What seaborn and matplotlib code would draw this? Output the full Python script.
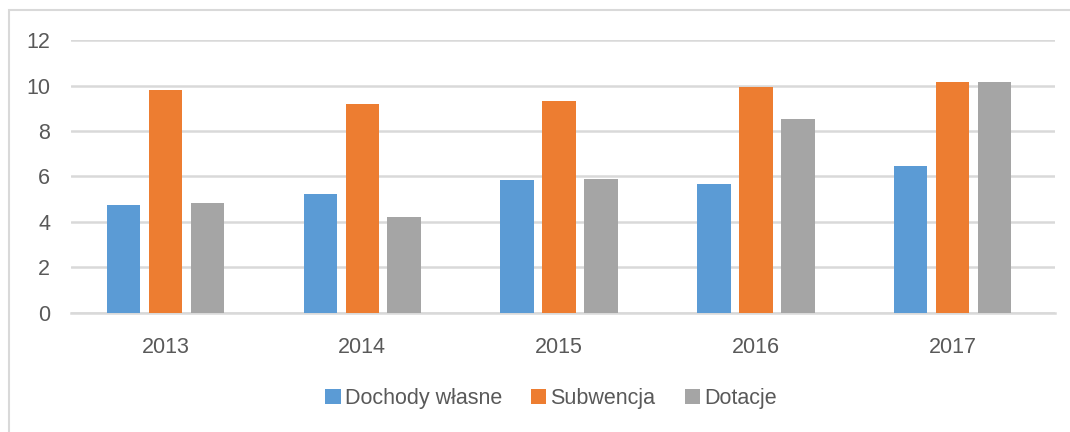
import pandas as pd
import seaborn as sns
import matplotlib.pyplot as plt
from matplotlib.patches import Rectangle

# values
years = ["2013", "2014", "2015", "2016", "2017"]
dochody_wlasne = [4.73, 5.24, 5.85, 5.69, 6.48]
subwencja = [9.81, 9.18, 9.31, 9.92, 10.14]
dotacje = [4.84, 4.21, 5.91, 8.52, 10.14]
series_names = ["Dochody własne", "Subwencja", "Dotacje"]
colors = ["#5B9BD5", "#ED7D31", "#A5A5A5"]

df = pd.DataFrame({"rok": years * 3,
                   "seria": [s for s in series_names for _ in years],
                   "wartosc": dochody_wlasne + subwencja + dotacje})

sns.set_theme(style="white")
plt.rcParams['font.family'] = ['Liberation Sans', 'DejaVu Sans']
text_col = "#595959"
grid_col = "#D9D9D9"

fig = plt.figure(figsize=(10.7, 4.32), dpi=100)
ax = fig.add_axes([0.0664, 0.2755, 0.9196, 0.6319])

sns.barplot(data=df, x="rok", y="wartosc", hue="seria", hue_order=series_names,
            palette=colors, width=0.64, gap=0.2, linewidth=0, saturation=1,
            ax=ax, zorder=3)

ax.set_ylim(0, 12)
ax.set_yticks(range(0, 13, 2))
ax.set_xlim(-0.48, 4.52)
ax.set_xlabel("")
ax.set_ylabel("")
ax.yaxis.grid(True, color=grid_col, linewidth=1.8)
ax.set_axisbelow(True)
for side in ["top", "right", "left"]:
    ax.spines[side].set_visible(False)
ax.spines["bottom"].set_color(grid_col)
ax.spines["bottom"].set_linewidth(1.8)
ax.tick_params(axis="y", length=0, pad=15, labelsize=15.5, labelcolor=text_col)
ax.tick_params(axis="x", length=0, pad=17, labelsize=15.5, labelcolor=text_col)
# Excel centres the category label a little right of the bar group
for lbl in ax.get_xticklabels():
    lbl.set_x(lbl.get_position()[0])

ax.legend(loc="center", bbox_to_anchor=(0.515, 0.078), bbox_transform=fig.transFigure,
          ncol=3, frameon=False, fontsize=15.5, labelcolor=text_col,
          handlelength=0.7, handleheight=0.7, handletextpad=0.2, columnspacing=1.35)

# outer chart border (left and top edges visible)
fig.add_artist(Rectangle((0.0084, -1), 2, 1.977, transform=fig.transFigure,
                         fill=False, edgecolor=grid_col, linewidth=1.5))

fig.savefig("out.png", dpi=100)
